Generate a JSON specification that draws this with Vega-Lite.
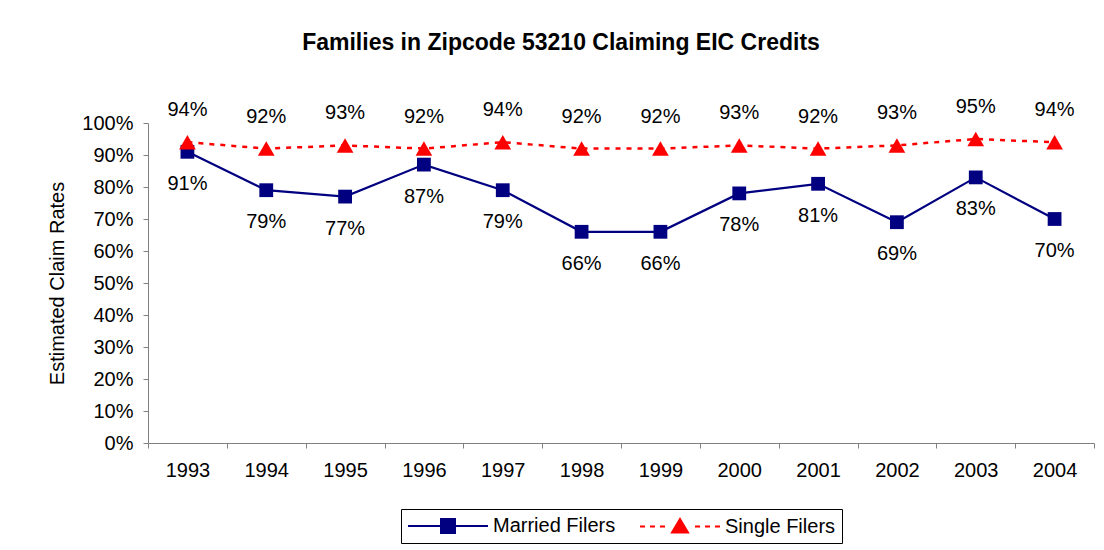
{
  "$schema": "https://vega.github.io/schema/vega-lite/v6.json",
  "autosize": {"type": "none"},
  "width": 946,
  "height": 320,
  "padding": {"left": 148, "top": 123, "right": 10, "bottom": 107},
  "background": "white",
  "title": {"text": "Families in Zipcode 53210 Claiming EIC Credits", "fontSize": 23, "font": "Liberation Sans", "fontWeight": "bold", "color": "black", "offset": 42, "dx": -60, "frame": "group"},
  "config": {"view": {"stroke": null}, "font": "Liberation Sans"},
  "data": {"values": [
    {"year": "1993", "series": "Married Filers", "rate": 0.91},
    {"year": "1994", "series": "Married Filers", "rate": 0.79},
    {"year": "1995", "series": "Married Filers", "rate": 0.77},
    {"year": "1996", "series": "Married Filers", "rate": 0.87},
    {"year": "1997", "series": "Married Filers", "rate": 0.79},
    {"year": "1998", "series": "Married Filers", "rate": 0.66},
    {"year": "1999", "series": "Married Filers", "rate": 0.66},
    {"year": "2000", "series": "Married Filers", "rate": 0.78},
    {"year": "2001", "series": "Married Filers", "rate": 0.81},
    {"year": "2002", "series": "Married Filers", "rate": 0.69},
    {"year": "2003", "series": "Married Filers", "rate": 0.83},
    {"year": "2004", "series": "Married Filers", "rate": 0.70},
    {"year": "1993", "series": "Single Filers", "rate": 0.94},
    {"year": "1994", "series": "Single Filers", "rate": 0.92},
    {"year": "1995", "series": "Single Filers", "rate": 0.93},
    {"year": "1996", "series": "Single Filers", "rate": 0.92},
    {"year": "1997", "series": "Single Filers", "rate": 0.94},
    {"year": "1998", "series": "Single Filers", "rate": 0.92},
    {"year": "1999", "series": "Single Filers", "rate": 0.92},
    {"year": "2000", "series": "Single Filers", "rate": 0.93},
    {"year": "2001", "series": "Single Filers", "rate": 0.92},
    {"year": "2002", "series": "Single Filers", "rate": 0.93},
    {"year": "2003", "series": "Single Filers", "rate": 0.95},
    {"year": "2004", "series": "Single Filers", "rate": 0.94}
  ]},
  "encoding": {
    "x": {"field": "year", "type": "ordinal",
      "scale": {"type": "band", "paddingInner": 0, "paddingOuter": 0},
      "axis": {"title": null, "labelAngle": 0, "tickBand": "extent", "domainColor": "#808080", "tickColor": "#808080", "tickSize": 5, "labelPadding": 12, "labelFontSize": 20, "labelColor": "black", "labelFont": "Liberation Sans"}},
    "y": {"field": "rate", "type": "quantitative",
      "scale": {"domain": [0, 1]},
      "axis": {"title": "Estimated Claim Rates", "format": ".0%", "values": [0, 0.1, 0.2, 0.3, 0.4, 0.5, 0.6, 0.7, 0.8, 0.9, 1], "grid": false, "domainColor": "#808080", "tickColor": "#808080", "tickSize": 5, "labelPadding": 10, "labelFontSize": 20, "labelColor": "black", "labelFont": "Liberation Sans", "titleFontSize": 20, "titleFontWeight": "normal", "titleFont": "Liberation Sans", "titleColor": "black", "titlePadding": 14}}
  },
  "resolve": {"scale": {"shape": "independent", "color": "independent", "fill": "independent", "size": "independent"}},
  "layer": [
    {"transform": [{"filter": "datum.series === 'Married Filers'"}],
     "mark": {"type": "line", "color": "#000080", "strokeWidth": 2.2}},
    {"transform": [{"filter": "datum.series === 'Single Filers'"}],
     "mark": {"type": "line", "color": "#FF0000", "strokeWidth": 2.5, "strokeDash": [5, 6]}},
    {"mark": {"type": "point", "filled": true, "opacity": 1},
     "encoding": {
       "shape": {"field": "series", "type": "nominal", "scale": {"domain": ["Married Filers", "Single Filers"], "range": ["square", "triangle-up"]}, "legend": null},
       "size": {"field": "series", "type": "nominal", "scale": {"domain": ["Married Filers", "Single Filers"], "range": [190, 280]}, "legend": null},
       "color": {"field": "series", "type": "nominal", "scale": {"domain": ["Married Filers", "Single Filers"], "range": ["#000080", "#FF0000"]}, "legend": null}
     }},
    {"mark": {"type": "point", "filled": false, "opacity": 0, "size": 400, "strokeWidth": 2},
     "encoding": {
       "shape": {"field": "series", "type": "nominal", "scale": {"domain": ["Married Filers", "Single Filers"], "range": ["M-1,0L7,0M2.3,-0.7L3.7,-0.7L3.7,0.7L2.3,0.7Z", "M-1,0L-0.5,0M0,0L0.5,0M1,0L1.5,0M4.5,0L5,0M5.5,0L6,0M6.5,0L7,0M3,-0.75L3.8,0.6L2.2,0.6Z"]},
         "legend": {"orient": "none", "legendX": 253, "legendY": 386, "direction": "horizontal", "title": null, "strokeColor": "black", "fillColor": "white", "padding": 6, "symbolSize": 400, "symbolStrokeWidth": 2, "symbolOpacity": 1, "labelOffset": 64, "columnPadding": 20, "labelFontSize": 20, "labelFont": "Liberation Sans", "labelColor": "black"}},
       "color": {"field": "series", "type": "nominal", "scale": {"domain": ["Married Filers", "Single Filers"], "range": ["#000080", "#FF0000"]},
         "legend": {"orient": "none", "legendX": 253, "legendY": 386, "direction": "horizontal", "title": null, "strokeColor": "black", "fillColor": "white", "padding": 6, "symbolSize": 400, "symbolStrokeWidth": 2, "symbolOpacity": 1, "labelOffset": 64, "columnPadding": 20, "labelFontSize": 20, "labelFont": "Liberation Sans", "labelColor": "black"}},
       "fill": {"field": "series", "type": "nominal", "scale": {"domain": ["Married Filers", "Single Filers"], "range": ["#000080", "#FF0000"]},
         "legend": {"orient": "none", "legendX": 253, "legendY": 386, "direction": "horizontal", "title": null, "strokeColor": "black", "fillColor": "white", "padding": 6, "symbolSize": 400, "symbolStrokeWidth": 2, "symbolOpacity": 1, "labelOffset": 64, "columnPadding": 20, "labelFontSize": 20, "labelFont": "Liberation Sans", "labelColor": "black"}}
     }},
    {"transform": [{"filter": "datum.series === 'Married Filers'"}],
     "mark": {"type": "text", "dy": 32, "baseline": "middle", "fontSize": 20, "font": "Liberation Sans", "color": "black"},
     "encoding": {"text": {"field": "rate", "type": "quantitative", "format": ".0%"}}},
    {"transform": [{"filter": "datum.series === 'Single Filers'"}],
     "mark": {"type": "text", "dy": -32, "baseline": "middle", "fontSize": 20, "font": "Liberation Sans", "color": "black"},
     "encoding": {"text": {"field": "rate", "type": "quantitative", "format": ".0%"}}}
  ]
}
